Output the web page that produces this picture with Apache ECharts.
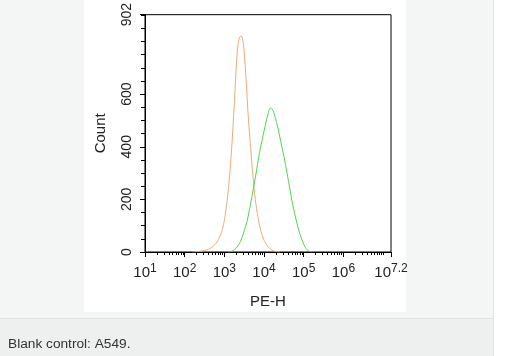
<!DOCTYPE html>
<html>
<head>
<meta charset="utf-8">
<script src="https://cdn.jsdelivr.net/npm/echarts@6/dist/echarts.min.js"></script>
<style>
html,body{margin:0;padding:0;background:#fff;}
#c{width:505px;height:356px;}
</style>
</head>
<body>
<div id="c"></div>
<script>
// x values are log10(PE-H)
var orangeX = [2.2, 2.4, 2.6, 2.8, 2.95, 3.05, 3.12, 3.2, 3.27, 3.33, 3.38, 3.42, 3.46, 3.5, 3.55, 3.6, 3.66, 3.72, 3.78, 3.85, 3.92, 4.0, 4.1, 4.2, 4.3, 4.4];
var orangeY = [0, 3, 10, 35, 85, 170, 270, 430, 620, 770, 815, 822, 810, 760, 650, 520, 400, 290, 200, 130, 80, 45, 20, 7, 2, 0];
var greenX = [3.1, 3.2, 3.3, 3.41, 3.5, 3.57, 3.65, 3.73, 3.8, 3.87, 3.95, 4.03, 4.1, 4.16, 4.22, 4.28, 4.35, 4.42, 4.5, 4.58, 4.65, 4.73, 4.82, 4.9, 4.97, 5.05, 5.13, 5.22];
var greenY = [0, 4, 15, 41, 80, 115, 175, 240, 300, 364, 425, 480, 525, 548, 540, 512, 472, 420, 364, 300, 240, 175, 115, 70, 41, 15, 4, 0];
var xTickExps = [1, 2, 3, 4, 5, 6, 7.2];
var xTickLabels = ['1', '2', '3', '4', '5', '6', '7.2'];
var yTickValues = [0, 200, 400, 600, 902];
var yMax = 902;
var caption = 'Blank control: A549.';

function zip(a, b) { return a.map(function (v, i) { return [v, b[i]]; }); }
var minorX = [];
for (var d = 1; d <= 7; d++) {
  for (var k = 1; k <= 9; k++) {
    var v = d + Math.log10(k);
    if (v <= 7.2 + 1e-9) minorX.push(v);
  }
}
var FONT = '"Liberation Sans", Arial, sans-serif';
var chart = echarts.init(document.getElementById('c'));
chart.setOption({
  animation: false,
  graphic: [
    { type: 'rect', z: -10, silent: true, shape: { x: 0, y: 0, width: 494, height: 356 }, style: { fill: '#f4f5f5' } },
    { type: 'rect', z: -9, silent: true, shape: { x: 84, y: 0, width: 322, height: 312 }, style: { fill: '#ffffff' } },
    { type: 'rect', z: -9, silent: true, shape: { x: 0, y: 318, width: 493, height: 38 }, style: { fill: '#eef0f0' } },
    { type: 'line', z: -8, silent: true, shape: { x1: 0, y1: 318.5, x2: 493, y2: 318.5 }, style: { stroke: '#e0e2e2', lineWidth: 1 } },
    { type: 'line', z: -8, silent: true, shape: { x1: 493.5, y1: 0, x2: 493.5, y2: 356 }, style: { stroke: '#e2e4e4', lineWidth: 1 } },
    { type: 'text', left: 8, top: 337, style: { text: caption, fill: '#333', font: '13.7px ' + FONT } }
  ],
  grid: { left: 145, right: 114, top: 8, bottom: 104, show: true, borderColor: '#000', borderWidth: 1, backgroundColor: '#fff' },
  xAxis: [{
    type: 'value', min: 1, max: 7.2, name: 'PE-H', nameLocation: 'middle', nameGap: 42,
    nameTextStyle: { color: '#222', fontSize: 15, fontFamily: FONT },
    axisLine: { show: true, lineStyle: { color: '#000', width: 1 } },
    axisTick: { show: true, inside: false, length: 5, customValues: xTickExps, lineStyle: { color: '#000' } },
    axisLabel: {
      customValues: xTickExps, margin: 11, color: '#222', fontFamily: FONT,
      formatter: function (v) {
        var i = xTickExps.indexOf(v);
        var e = i >= 0 ? xTickLabels[i] : String(v);
        return '{b|10}{s|' + e + '}';
      },
      rich: {
        b: { fontSize: 15, fontFamily: FONT, color: '#222', lineHeight: 20 },
        s: { fontSize: 12, fontFamily: FONT, color: '#222', verticalAlign: 'top', lineHeight: 12 }
      }
    },
    splitLine: { show: false }
  }, {
    type: 'value', min: 1, max: 7.2, position: 'bottom',
    axisLine: { show: false },
    axisTick: { show: true, length: 3, customValues: minorX, lineStyle: { color: '#000' } },
    axisLabel: { show: false },
    splitLine: { show: false }
  }],
  yAxis: [{
    type: 'value', min: 0, max: yMax, name: 'Count', nameLocation: 'middle', nameGap: 37, nameRotate: 90,
    nameTextStyle: { color: '#222', fontSize: 15, fontFamily: FONT },
    axisLine: { show: true, lineStyle: { color: '#000', width: 1 } },
    axisTick: { show: true, length: 5, customValues: yTickValues, lineStyle: { color: '#000' } },
    axisLabel: { customValues: yTickValues, rotate: 90, margin: 11, color: '#222', fontSize: 14, fontFamily: FONT },
    splitLine: { show: false }
  }, {
    type: 'value', min: 0, max: yMax, interval: 50, position: 'left',
    axisLine: { show: false },
    axisTick: { show: true, length: 4, lineStyle: { color: '#000' } },
    axisLabel: { show: false },
    splitLine: { show: false }
  }],
  series: [{
    type: 'line', data: zip(orangeX, orangeY), showSymbol: false, smooth: 0.3,
    lineStyle: { color: '#eeaa78', width: 1 }, itemStyle: { color: '#eeaa78' }
  }, {
    type: 'line', data: zip(greenX, greenY), showSymbol: false, smooth: 0.3,
    lineStyle: { color: '#4fd64f', width: 1 }, itemStyle: { color: '#4fd64f' }
  }]
});
</script>
</body>
</html>
